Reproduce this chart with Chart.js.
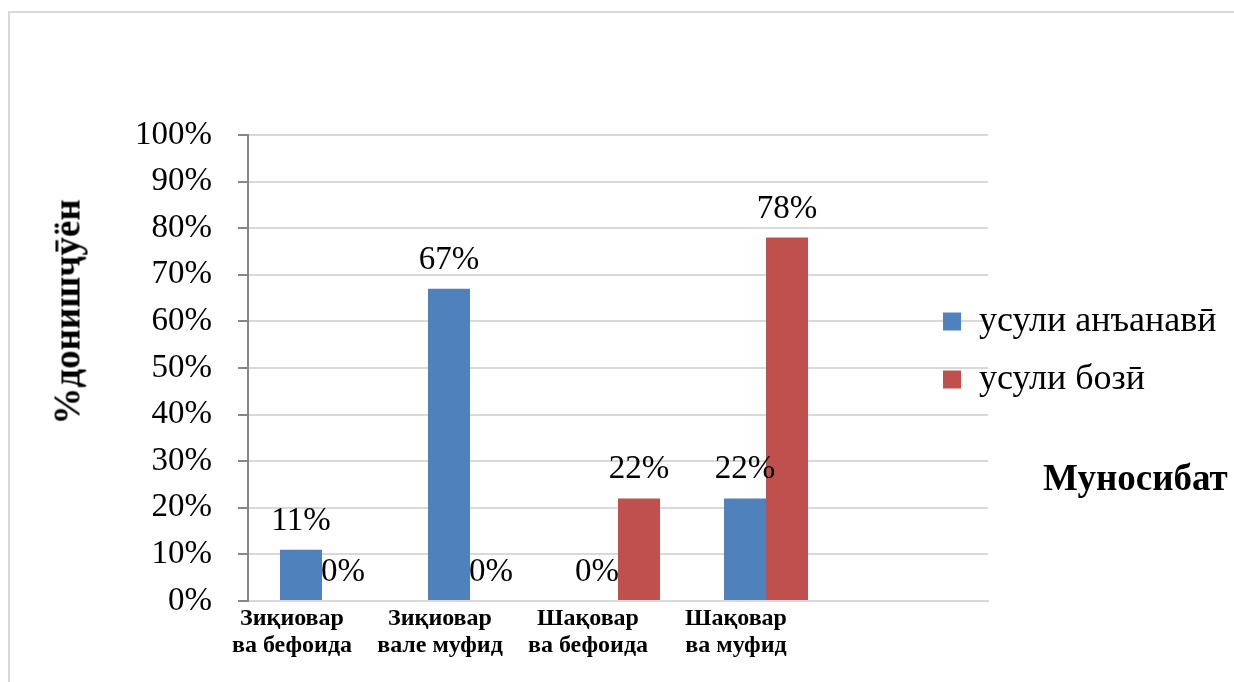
<!DOCTYPE html>
<html lang="tg">
<head>
<meta charset="UTF-8">
<title>Муносибат</title>
<script src="https://cdn.jsdelivr.net/npm/chart.js"></script>
<style>
  body { margin: 0; background: #fff; overflow: hidden; }
  #wrap { position: relative; width: 1234px; height: 682px; overflow: hidden; }
  #frame {
    position: absolute; left: 8px; top: 11px; width: 1300px; height: 720px;
    border-left: 2px solid #d9d9d9; border-top: 2px solid #d9d9d9;
  }
  canvas { position: absolute; left: 0; top: 0; }
  #yTitle {
    position: absolute; left: 67px; top: 312px;
    transform: translate(-50%, -50%) rotate(-90deg);
    font: bold 37px "Liberation Serif", serif; white-space: nowrap; color: #000;
  }
  #xTitle {
    position: absolute; left: 1043px; top: 456px; line-height: 1;
    font: bold 37px "Liberation Serif", serif; white-space: nowrap; color: #000;
  }
</style>
</head>
<body>
<div id="wrap">
  <div id="frame"></div>
  <canvas id="chart" width="1234" height="682"></canvas>
  <div id="yTitle">%донишҷӯён</div>
  <div id="xTitle">Муносибат</div>
</div>

<script>
// categories (last slot is left empty on purpose)
const categories = [
  ['Зиқиовар', 'ва бефоида'],
  ['Зиқиовар', 'вале муфид'],
  ['Шақовар', 'ва бефоида'],
  ['Шақовар', 'ва муфид'],
  ''
];
const seriesNames = ['усули анъанавӣ', 'усули бозӣ'];
const traditional = [11, 67, 0, 22];
const game = [0, 0, 22, 78];
const yTicks = [0, 10, 20, 30, 40, 50, 60, 70, 80, 90, 100];

// percent value written above every bar
const valueLabels = {
  id: 'valueLabels',
  afterDatasetsDraw(chart) {
    const ctx = chart.ctx;
    ctx.save();
    ctx.font = '33px "Liberation Serif"';
    ctx.fillStyle = '#000';
    ctx.textAlign = 'center';
    ctx.textBaseline = 'alphabetic';
    chart.data.datasets.forEach((ds, i) => {
      chart.getDatasetMeta(i).data.forEach((bar, j) => {
        const v = ds.data[j];
        if (v == null) return;
        ctx.fillText(v + '%', bar.x, bar.y - 20);
      });
    });
    ctx.restore();
  }
};

// legend sits over the right end of the grid
const legendShift = {
  id: 'legendShift',
  afterLayout(chart) {
    const lg = chart.legend;
    lg.left -= 67; lg.width += 67;
    lg.top -= 58; lg.bottom -= 58;
  }
};

new Chart(document.getElementById('chart'), {
  type: 'bar',
  data: {
    labels: categories,
    datasets: [
      { label: seriesNames[0], data: traditional, backgroundColor: '#4f81bd', borderWidth: 0 },
      { label: seriesNames[1], data: game, backgroundColor: '#c0504d', borderWidth: 0 }
    ]
  },
  options: {
    responsive: false,
    animation: false,
    layout: { padding: { top: 135, left: 0, right: 0, bottom: 0 } },
    datasets: { bar: { categoryPercentage: 84 / 148, barPercentage: 1 } },
    plugins: {
      tooltip: { enabled: false },
      legend: {
        position: 'right',
        maxWidth: 246,
        labels: {
          boxWidth: 18, boxHeight: 18, padding: 22, color: '#000',
          font: { family: 'Liberation Serif', size: 36 }
        }
      }
    },
    scales: {
      x: {
        grid: { display: false },
        border: { color: '#d9d9d9', width: 2 },
        afterFit(s) { s.height = 81; },
        ticks: {
          color: '#000', padding: -4, maxRotation: 0, autoSkip: false, labelOffset: -30,
          font: { family: 'Liberation Serif', size: 24, weight: 'bold', lineHeight: 1.12 }
        }
      },
      y: {
        min: 0, max: 100,
        afterFit(s) { s.width = 248; },
        afterBuildTicks(s) { s.ticks = yTicks.map(v => ({ value: v })); },
        grid: { color: '#d9d9d9', lineWidth: 2, tickColor: '#868686', tickLength: 10 },
        border: { color: '#868686', width: 2 },
        ticks: {
          color: '#000', padding: 26,
          font: { family: 'Liberation Serif', size: 33 },
          callback: v => v + '%'
        }
      }
    }
  },
  plugins: [valueLabels, legendShift]
});
</script>
</body>
</html>
